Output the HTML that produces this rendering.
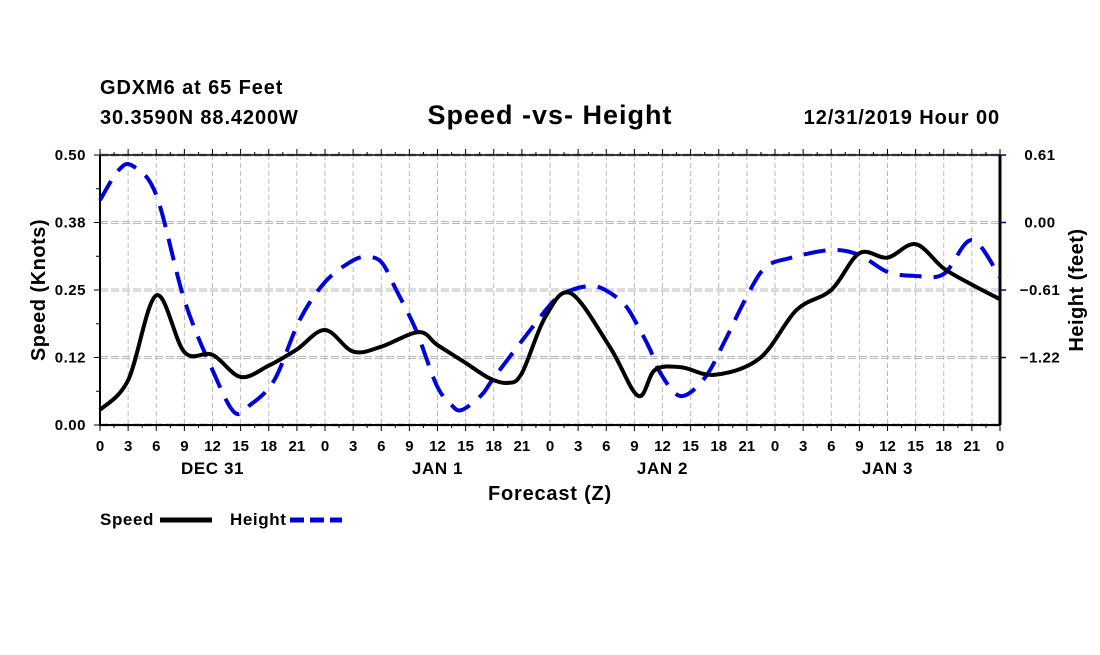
<!DOCTYPE html>
<html><head><meta charset="utf-8">
<style>
body{margin:0;background:#fff;width:1100px;height:650px;overflow:hidden}
svg text{font-family:"Liberation Sans",sans-serif;font-weight:bold;fill:#000}
</style></head>
<body>
<svg id="chart" width="1100" height="650" viewBox="0 0 1100 650" xmlns="http://www.w3.org/2000/svg">
<text x="100" y="94" font-size="20" letter-spacing="0.9">GDXM6 at 65 Feet</text>
<text x="100" y="124" font-size="20" letter-spacing="0.9">30.3590N 88.4200W</text>
<text x="550" y="124" font-size="27" letter-spacing="1" text-anchor="middle">Speed -vs- Height</text>
<text x="1000" y="124" font-size="20" letter-spacing="0.9" text-anchor="end">12/31/2019 Hour 00</text>
<g id="grid"></g>
<g id="axes"></g>
<g id="series"></g>
<text transform="translate(45,290) rotate(-90)" font-size="20" letter-spacing="0.5" text-anchor="middle">Speed (Knots)</text>
<text transform="translate(1083,290) rotate(-90)" font-size="20" letter-spacing="0.5" text-anchor="middle">Height (feet)</text>
<text x="550" y="500" font-size="20" letter-spacing="0.8" text-anchor="middle">Forecast (Z)</text>
<g>
<text x="100" y="525" font-size="17" letter-spacing="0.6">Speed</text>
<line x1="160" y1="520" x2="212" y2="520" stroke="#000" stroke-width="5"/>
<text x="230" y="525" font-size="17" letter-spacing="0.6">Height</text>
<line x1="290" y1="520" x2="342" y2="520" stroke="#0000dd" stroke-width="5" stroke-dasharray="14,6"/>
</g>
</svg>
<script>
const speedHours=[0,3,6,9,12,15,18,21,24,27,30,34,36,39,41.5,43.5,45,47.5,50.2,54.4,57.4,59.2,62,65.6,70.4,74.3,78,81,84,87,90,93,96];
const speedValues=[0.028,0.083,0.24,0.135,0.13,0.089,0.11,0.14,0.176,0.136,0.145,0.172,0.148,0.115,0.087,0.078,0.096,0.2,0.244,0.144,0.054,0.102,0.107,0.093,0.124,0.213,0.25,0.318,0.31,0.335,0.29,0.26,0.233];
const heightHours=[0,2,3.5,6,9,12,14.3,16,18.6,21.3,24,26.7,28.3,30,31.6,33.7,35.9,37.5,38.6,40.7,42,45.9,48.5,50.3,52.3,53.9,56,57.6,58.7,59.7,61.9,64.5,66.7,68.8,70.9,73.6,78,81,84,87,90,93,96];
const heightValues=[0.203,0.474,0.511,0.249,-0.70,-1.333,-1.713,-1.65,-1.423,-0.881,-0.538,-0.357,-0.312,-0.357,-0.61,-0.971,-1.469,-1.65,-1.694,-1.559,-1.405,-0.971,-0.70,-0.61,-0.574,-0.61,-0.746,-0.971,-1.152,-1.35,-1.568,-1.405,-1.062,-0.70,-0.411,-0.321,-0.249,-0.294,-0.447,-0.483,-0.465,-0.158,-0.493];
const speedTicks=[0,0.125,0.25,0.375,0.5];
const speedTickLabels=["0.00","0.12","0.25","0.38","0.50"];
const heightTicks=[0.61,0,-0.61,-1.22];
const heightTickLabels=["0.61","0.00","\u22120.61","\u22121.22"];
const hourLabels=["0","3","6","9","12","15","18","21"];
const dayLabels=["DEC 31","JAN 1","JAN 2","JAN 3"];

const L=100,R=1000,T=155,B=425;
const xS=h=>L+(R-L)*h/96;
const yS=v=>B-(B-T)*v/0.5;
const yH=v=>T+(0.61-v)*(67.5/0.61);
const NS="http://www.w3.org/2000/svg";
function mk(parent,tag,attrs){const e=document.createElementNS(NS,tag);for(const k in attrs)e.setAttribute(k,attrs[k]);document.getElementById(parent).appendChild(e);return e;}

for(let h=3;h<96;h+=3){
  const g=mk('grid','line',{x1:xS(h),y1:T,x2:xS(h),y2:B,stroke:'#bbb','stroke-width':1,'stroke-dasharray':'5,3'});
  
  
}
speedTicks.forEach(v=>{
  const g=mk('grid','line',{x1:L,y1:yS(v)-1,x2:R,y2:yS(v)-1,stroke:'#bbb','stroke-width':1,'stroke-dasharray':'8,3'});
  
  
  const g2=mk('grid','line',{x1:L,y1:yS(v)+1,x2:R,y2:yS(v)+1,stroke:'#bbb','stroke-width':1,'stroke-dasharray':'8,3'});
  
  
});
const frame=mk('axes','path',{d:`M${L},${T}V${B}H${R}`,fill:'none',stroke:'#000','stroke-width':2});


const topL=mk('axes','line',{x1:L,y1:T,x2:R,y2:T,stroke:'#000','stroke-width':1.5});


const rAx=mk('axes','line',{x1:R,y1:T,x2:R,y2:B,stroke:'#000','stroke-width':3});



for(let h=0;h<=96;h+=1.5){
  const len=(h%3===0)?6:3;
  mk('axes','line',{x1:xS(h),y1:B,x2:xS(h),y2:B+len,stroke:'#000','stroke-width':1});
  mk('axes','line',{x1:xS(h),y1:T,x2:xS(h),y2:T-len,stroke:'#000','stroke-width':1});
}
for(let h=0;h<=96;h+=3){
  const t=mk('axes','text',{x:xS(h),y:451,'font-size':15,'text-anchor':'middle'});
  t.textContent=hourLabels[(h/3)%8];
  
  
}
dayLabels.forEach((d,i)=>{
  const t=mk('axes','text',{x:xS(12+24*i),y:474,'font-size':17,'letter-spacing':'0.6','text-anchor':'middle'});
  t.textContent=d;
  
  
});
for(let v=0;v<=0.5;v+=0.0625){mk('axes','line',{x1:L,y1:yS(v),x2:L-(Math.abs(v*8-Math.round(v*8))<1e-6?6:4),y2:yS(v),stroke:'#000','stroke-width':1});}
speedTicks.forEach((v,i)=>{
  const t=mk('axes','text',{x:86,y:yS(v)+5,'font-size':15,'letter-spacing':'0.5','text-anchor':'end'});
  t.textContent=speedTickLabels[i];
  
  
});
heightTicks.forEach((v,i)=>{
  mk('axes','line',{x1:R,y1:yH(v),x2:R+6,y2:yH(v),stroke:'#00008b','stroke-width':1.5});
  const t=mk('axes','text',{x:1040,y:yH(v)+5,'font-size':15,'letter-spacing':'0.5','text-anchor':'middle'});
  t.textContent=heightTickLabels[i];
  
  
});
function smooth(pts){
  let d=`M${pts[0][0]},${pts[0][1]}`;
  for(let i=0;i<pts.length-1;i++){
    const p0=pts[Math.max(0,i-1)],p1=pts[i],p2=pts[i+1],p3=pts[Math.min(pts.length-1,i+2)];
    d+=`C${p1[0]+(p2[0]-p0[0])/6},${p1[1]+(p2[1]-p0[1])/6} ${p2[0]-(p3[0]-p1[0])/6},${p2[1]-(p3[1]-p1[1])/6} ${p2[0]},${p2[1]}`;
  }
  return d;
}
const hp=mk('series','path',{d:smooth(heightHours.map((h,i)=>[xS(h),yH(heightValues[i])])),fill:'none',stroke:'#0000dd','stroke-width':4,'stroke-dasharray':'22,12'});


const sp=mk('series','path',{d:smooth(speedHours.map((h,i)=>[xS(h),yS(speedValues[i])])),fill:'none',stroke:'#000','stroke-width':4});


</script>
</body></html>
